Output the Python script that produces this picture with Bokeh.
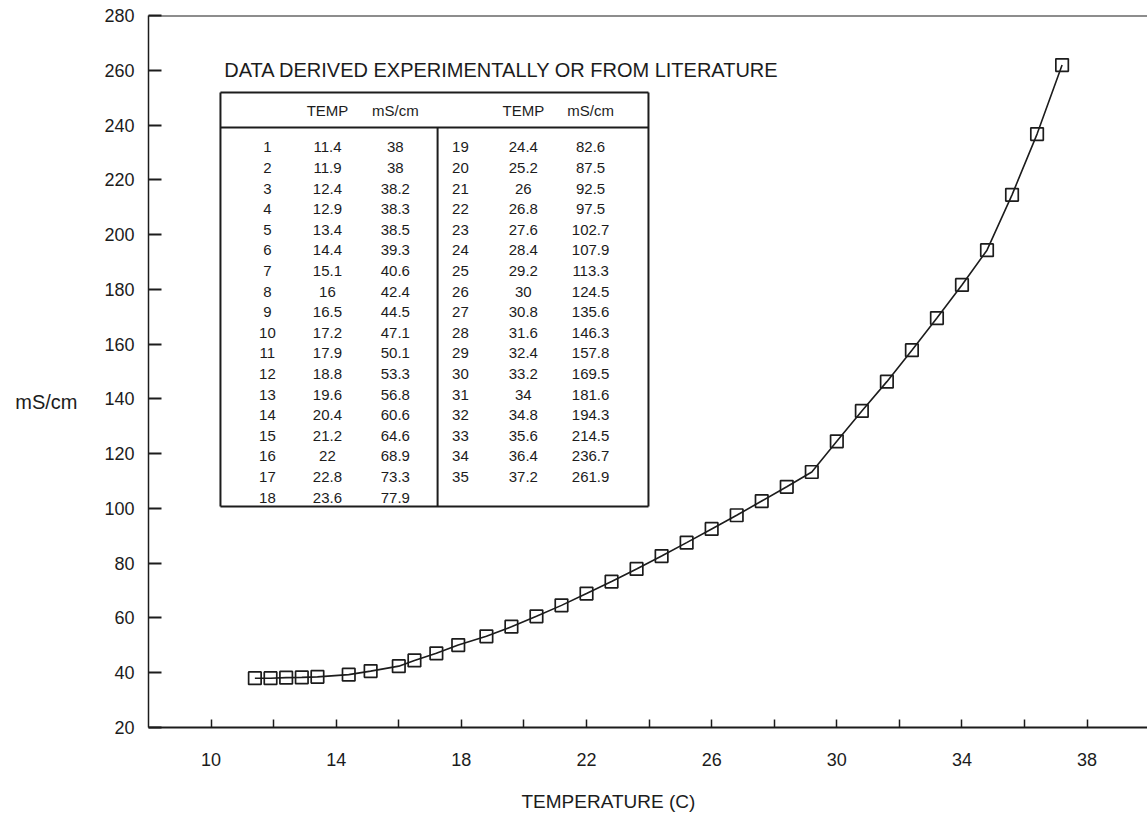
from bokeh.plotting import figure
from bokeh.models import FixedTicker, Span, Label, ColumnDataSource, LinearAxis
from bokeh.embed import file_html
from bokeh.resources import INLINE
from bokeh.core.properties import value

point_no = list(range(1, 36))
temp_c = [11.4, 11.9, 12.4, 12.9, 13.4, 14.4, 15.1, 16, 16.5, 17.2, 17.9, 18.8,
          19.6, 20.4, 21.2, 22, 22.8, 23.6, 24.4, 25.2, 26, 26.8, 27.6, 28.4,
          29.2, 30, 30.8, 31.6, 32.4, 33.2, 34, 34.8, 35.6, 36.4, 37.2]
ms_cm = [38, 38, 38.2, 38.3, 38.5, 39.3, 40.6, 42.4, 44.5, 47.1, 50.1, 53.3,
         56.8, 60.6, 64.6, 68.9, 73.3, 77.9, 82.6, 87.5, 92.5, 97.5, 102.7, 107.9,
         113.3, 124.5, 135.6, 146.3, 157.8, 169.5, 181.6, 194.3, 214.5, 236.7, 261.9]
x_ticks = [10, 14, 18, 22, 26, 30, 34, 38]
x_minor_ticks = [12, 16, 20, 24, 28, 32, 36]
y_ticks = [20, 40, 60, 80, 100, 120, 140, 160, 180, 200, 220, 240, 260, 280]
table_title = "DATA DERIVED EXPERIMENTALLY OR FROM LITERATURE"
col_headers = ["TEMP", "mS/cm"]
x_title = "TEMPERATURE (C)"
y_title = "mS/cm"

INK = "#1c1c1c"
FONT = "Liberation Sans"

p = figure(width=1147, height=818, x_range=(8, 39.93), y_range=(20, 280),
           output_backend="svg", toolbar_location=None,
           min_border_left=148, min_border_right=0,
           min_border_top=15, min_border_bottom=91)
p.background_fill_color = "white"
p.border_fill_color = "white"
p.outline_line_color = None
p.xgrid.visible = False
p.ygrid.visible = False

# x axis
xa = p.xaxis[0]
xa.ticker = FixedTicker(ticks=x_ticks, minor_ticks=x_minor_ticks)
xa.major_tick_in = 8
xa.major_tick_out = 0
xa.minor_tick_in = 8
xa.minor_tick_out = 0
xa.major_tick_line_width = 1.5
xa.minor_tick_line_width = 1.5
xa.major_tick_line_color = INK
xa.minor_tick_line_color = INK
xa.axis_line_width = 2
xa.axis_line_color = INK
xa.major_label_text_font = FONT
xa.major_label_text_font_size = "18px"
xa.major_label_text_color = INK
xa.major_label_standoff = 25

# y axis
ya = p.yaxis[0]
ya.ticker = FixedTicker(ticks=y_ticks)
ya.major_tick_in = 13
ya.major_tick_out = 0
ya.minor_tick_line_color = None
ya.major_tick_line_width = 2
ya.major_tick_line_color = INK
ya.axis_line_width = 1.5
ya.axis_line_color = INK
ya.major_label_text_font = FONT
ya.major_label_text_font_size = "18px"
ya.major_label_text_color = INK
ya.major_label_standoff = 14


def title_axis(pos, text, standoff, size):
    ax = LinearAxis(ticker=FixedTicker(ticks=[pos], minor_ticks=[]),
                    major_label_overrides={pos: text})
    ax.axis_line_color = None
    ax.major_tick_line_color = None
    ax.minor_tick_line_color = None
    ax.major_tick_out = 0
    ax.major_tick_in = 0
    ax.major_label_text_font = FONT
    ax.major_label_text_font_size = size
    ax.major_label_text_color = INK
    ax.major_label_standoff = standoff
    return ax


# axis titles (horizontal, placed like the reference)
p.add_layout(title_axis(22.7, x_title, 22, "19px"), "below")
p.add_layout(title_axis(139, y_title, 24, "20px"), "left")

# top border
p.add_layout(Span(location=280, dimension="width", line_color=INK, line_width=2))

# curve and markers
src = ColumnDataSource(dict(t=temp_c, c=ms_cm))
p.line("t", "c", source=src, line_color=INK, line_width=1.6)
p.scatter("t", "c", source=src, marker="square", size=12.5, fill_alpha=0,
          line_color=INK, line_width=1.7)

# ---- inset table ----
tb_left, tb_right, tb_mid = 10.30, 23.98, 17.24
tb_top, tb_head, tb_bottom = 251.9, 239.1, 100.7
p.segment(x0=[tb_left, tb_left, tb_left, tb_left, tb_right, tb_mid],
          y0=[tb_top, tb_head, tb_bottom, tb_top, tb_top, tb_head],
          x1=[tb_right, tb_right, tb_right, tb_left, tb_right, tb_mid],
          y1=[tb_top, tb_head, tb_bottom, tb_bottom, tb_bottom, tb_bottom],
          line_color=INK, line_width=2)

p.add_layout(Label(x=10.42, y=260, text=table_title, text_font=FONT,
                   text_font_size="20px", text_color=INK,
                   text_align="left", text_baseline="middle"))

head_y = 245.3
col_x_left = [11.80, 13.72, 15.89]
col_x_right = [17.97, 19.98, 22.13]
hdr = ColumnDataSource(dict(
    x=[col_x_left[1], col_x_left[2], col_x_right[1], col_x_right[2]],
    y=[head_y] * 4,
    s=[col_headers[0], col_headers[1], col_headers[0], col_headers[1]]))
p.text("x", "y", text="s", source=hdr, text_font=value(FONT),
       text_font_size="15px", text_color=INK, text_align="center",
       text_baseline="middle")

row_y0, row_step = 231.8, 7.52
xs, ys, ss = [], [], []
for i, (n, t, c) in enumerate(zip(point_no, temp_c, ms_cm)):
    half = 0 if i < 18 else 1
    r = i if i < 18 else i - 18
    cols = col_x_left if half == 0 else col_x_right
    y = row_y0 - r * row_step
    for cx, s in zip(cols, [str(n), f"{t:g}", f"{c:g}"]):
        xs.append(cx)
        ys.append(y)
        ss.append(s)
cells = ColumnDataSource(dict(x=xs, y=ys, s=ss))
p.text("x", "y", text="s", source=cells, text_font=value(FONT),
       text_font_size="15px", text_color=INK, text_align="center",
       text_baseline="middle")

open("out.html", "w").write(file_html(p, INLINE))
